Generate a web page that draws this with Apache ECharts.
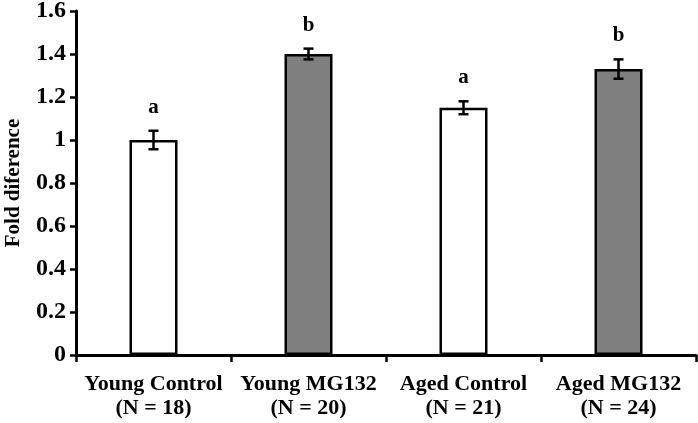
<!DOCTYPE html>
<html>
<head>
<meta charset="utf-8">
<script src="https://cdn.jsdelivr.net/npm/echarts@6/dist/echarts.min.js"></script>
<style>
html,body{margin:0;padding:0;background:#fff;}
#chart{width:698px;height:423px;}
</style>
</head>
<body>
<div id="chart"></div>
<script>
var categories = ['Young Control\n(N = 18)', 'Young MG132\n(N = 20)', 'Aged Control\n(N = 21)', 'Aged MG132\n(N = 24)'];
var means = [1.00, 1.40, 1.15, 1.33];
var errors = [0.043, 0.025, 0.03, 0.045];
var letters = ['a', 'b', 'a', 'b'];
var barColors = ['#ffffff', '#7f7f7f', '#ffffff', '#7f7f7f'];
var yTicks = { min: 0, max: 1.6, interval: 0.2 };

var FONT = '"Liberation Serif", "Times New Roman", serif';
var chart = echarts.init(document.getElementById('chart'));

var barData = means.map(function (v, i) {
  return { value: v, itemStyle: { color: barColors[i] } };
});
var errData = means.map(function (v, i) { return [i, v - errors[i], v + errors[i], i]; });

chart.setOption({
  animation: false,
  grid: { left: 76, right: 2, top: 11, bottom: 68, containLabel: false, outerBoundsMode: 'none' },
  xAxis: {
    type: 'category',
    data: categories,
    axisLine: { lineStyle: { color: '#000', width: 3 } },
    axisTick: { show: true, length: 7, lineStyle: { color: '#000', width: 2.5 } },
    axisLabel: { color: '#000', fontFamily: FONT, fontWeight: 'bold', fontSize: 22, lineHeight: 24, margin: 17, interval: 0 }
  },
  yAxis: {
    type: 'value',
    min: yTicks.min, max: yTicks.max, interval: yTicks.interval,
    name: 'Fold diference',
    nameLocation: 'middle',
    nameGap: 52,
    nameTextStyle: { color: '#000', fontFamily: FONT, fontWeight: 'bold', fontSize: 21 },
    axisLine: { show: true, lineStyle: { color: '#000', width: 3 } },
    axisTick: { show: true, length: 6, lineStyle: { color: '#000', width: 2.5 } },
    splitLine: { show: false },
    axisLabel: { color: '#000', fontFamily: FONT, fontWeight: 'bold', fontSize: 24, margin: 10 }
  },
  series: [
    {
      type: 'bar',
      data: barData,
      barWidth: 48,
      itemStyle: { borderColor: '#000', borderWidth: 2.5 },
      z: 2
    },
    {
      type: 'custom',
      data: errData,
      z: 5,
      renderItem: function (params, api) {
        var x = api.value(0);
        var lo = api.coord([x, api.value(1)]);
        var hi = api.coord([x, api.value(2)]);
        var idx = api.value(3);
        var hw = 5;
        return {
          type: 'group',
          children: [
            { type: 'line', shape: { x1: lo[0], y1: lo[1], x2: hi[0], y2: hi[1] }, style: { stroke: '#000', lineWidth: 2.5 } },
            { type: 'line', shape: { x1: hi[0] - hw, y1: hi[1], x2: hi[0] + hw, y2: hi[1] }, style: { stroke: '#000', lineWidth: 2.5 } },
            { type: 'line', shape: { x1: lo[0] - hw, y1: lo[1], x2: lo[0] + hw, y2: lo[1] }, style: { stroke: '#000', lineWidth: 2.5 } },
            { type: 'text', style: { text: letters[idx], x: hi[0], y: hi[1] - 13, align: 'center', verticalAlign: 'bottom', fill: '#000', font: 'bold 21px ' + FONT } }
          ]
        };
      }
    }
  ]
});
</script>
</body>
</html>
